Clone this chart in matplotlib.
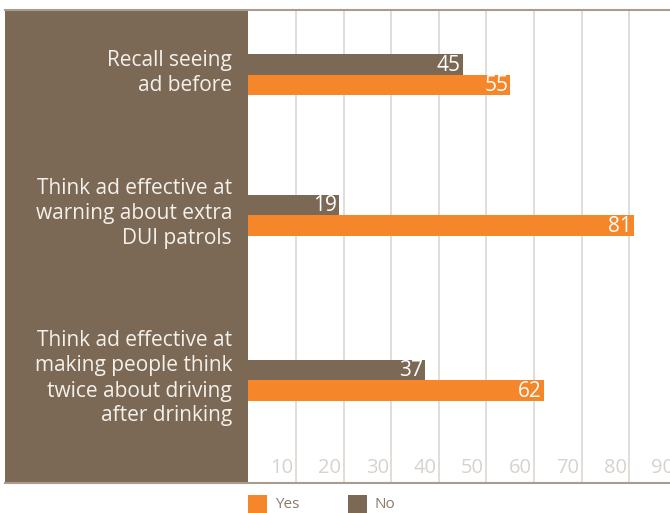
import matplotlib
matplotlib.use('Agg')
import matplotlib.pyplot as plt
from matplotlib.patches import Rectangle
from matplotlib.lines import Line2D
import matplotlib.transforms as mtransforms

# survey answers, percent
questions = ['Recall seeing\nad before',
             'Think ad effective at\nwarning about extra\nDUI patrols',
             'Think ad effective at\nmaking people think\ntwice about driving\nafter drinking']
yes_vals = [55, 81, 62]
no_vals = [45, 19, 37]
tick_vals = [10, 20, 30, 40, 50, 60, 70, 80, 90]

ORANGE = '#f58629'
BROWN = '#7b6955'
GRID = '#e2ddd8'
RULE = '#a99c8d'
TICK = '#d8d2cc'

W, H = 670, 513
plt.rcParams['font.family'] = 'Open Sans'
fig = plt.figure(figsize=(W / 100, H / 100), dpi=100)

# plot area in pixel units (y measured from top)
x0, x1 = 248.4, 670
y_top, y_bot = 10, 482
ax = fig.add_axes([x0 / W, 1 - y_bot / H, (x1 - x0) / W, (y_bot - y_top) / H])
ax.set_xlim(0, (x1 - x0) / 4.76)
ax.set_ylim(y_bot, y_top)
ax.axis('off')

# brown label panel
fig.patches.append(Rectangle((5 / W, 1 - y_bot / H), (x0 - 5) / W, (y_bot - y_top) / H,
                             transform=fig.transFigure, facecolor=BROWN, edgecolor='none', zorder=0))

# vertical grid
for v in tick_vals:
    ax.axvline(v, color=GRID, lw=1.4, zorder=1)
    ax.text(v - 0.5, 468, str(v), ha='right', va='center', color=TICK, fontsize=14.5, zorder=2)

# bars
group_pos = [74.5, 215, 380]
bar_h = 20.5
trans = mtransforms.blended_transform_factory(fig.transFigure, ax.transData)
for i, y in enumerate(group_pos):
    ax.barh(y - bar_h / 2, no_vals[i], height=bar_h, color=BROWN, zorder=3)
    ax.barh(y + bar_h / 2, yes_vals[i], height=bar_h, color=ORANGE, zorder=3)
    ax.text(no_vals[i] - 0.4, y - bar_h / 2 + 1, str(no_vals[i]), ha='right', va='center',
            color='white', fontsize=15, zorder=4)
    ax.text(yes_vals[i] - 0.4, y + bar_h / 2 + 1, str(yes_vals[i]), ha='right', va='center',
            color='white', fontsize=15, zorder=4)
    fig.text(232 / W, y - 1.5, questions[i], transform=trans, ha='right', va='center',
             multialignment='right', color='#f4f1ec', fontsize=15, linespacing=1.25, zorder=5)

# top and bottom rules
for yy in (y_top, y_bot + 0.5):
    fig.add_artist(Line2D([5 / W, 1], [1 - yy / H, 1 - yy / H], color=RULE, lw=1.5,
                          transform=fig.transFigure))

# legend
for xs, col, lab in ((248, ORANGE, 'Yes'), (348, BROWN, 'No')):
    fig.patches.append(Rectangle((xs / W, 0), 19 / W, 18 / H, transform=fig.transFigure,
                                 facecolor=col, edgecolor='none'))
    fig.text((xs + 27) / W, 1 - 504 / H, lab, ha='left', va='center', color='#8a7b6a', fontsize=11)

fig.savefig('out.png', dpi=100)
